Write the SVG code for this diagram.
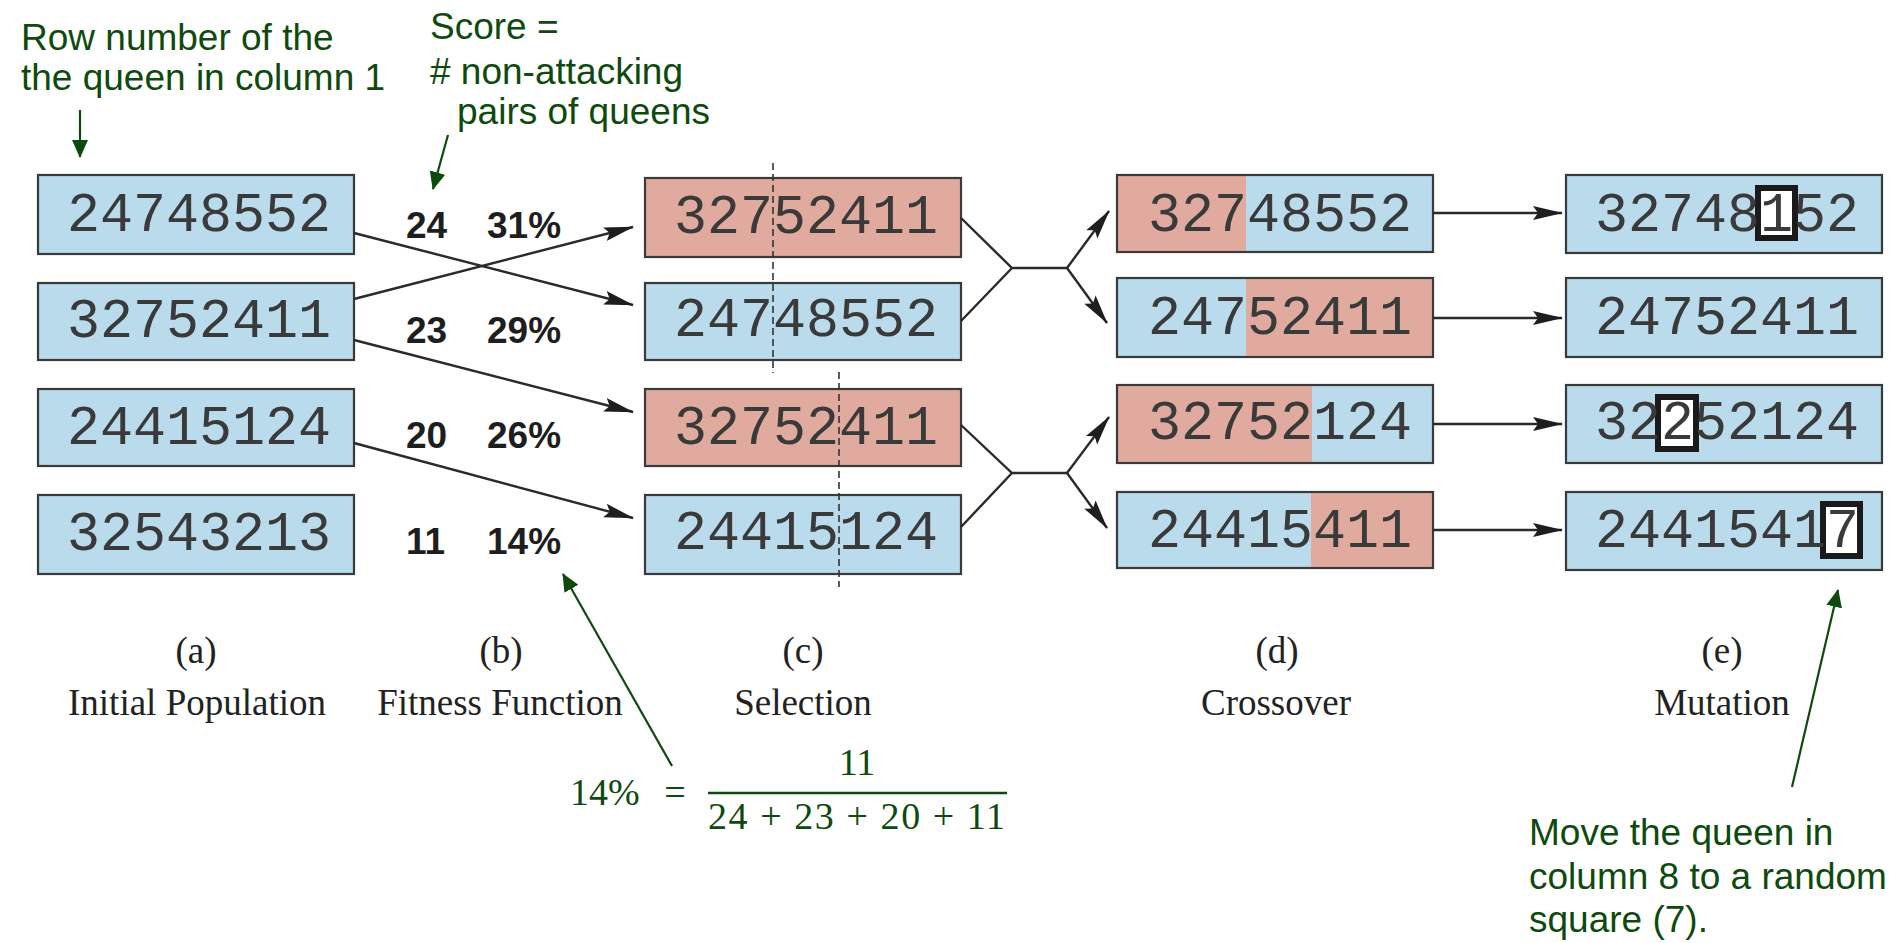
<svg xmlns="http://www.w3.org/2000/svg" width="1895" height="943" viewBox="0 0 1895 943">
  <style>
    .blue { fill: #b9dbeb; }
    .red { fill: #e0ab9e; }
    .frame { fill: none; stroke: #3a3a3a; stroke-width: 2.2; }
    .digits { font-family: "Liberation Mono", "DejaVu Sans Mono", monospace; font-size: 55px; fill: #3a3a3a; }
    .score { font-family: "Liberation Sans", Arial, sans-serif; font-size: 37px; font-weight: bold; fill: #1e1e1e; }
    .caption { font-family: "Liberation Serif", "Times New Roman", serif; font-size: 37px; fill: #222; text-anchor: middle; }
    .note { font-family: "Liberation Sans", Arial, sans-serif; font-size: 37px; fill: #0e4a0e; }
    .math { font-family: "Liberation Serif", "Times New Roman", serif; font-size: 38px; fill: #0e4a0e; }
    .conn { fill: none; stroke: #2a2a2a; stroke-width: 2.4; }
    .pointer { fill: none; stroke: #0e4a0e; stroke-width: 2.2; }
    .cut { fill: none; stroke: #333; stroke-width: 1.6; stroke-dasharray: 7 4; }
    .mut { fill: #fff; stroke: #1a1a1a; stroke-width: 6; }
  </style>
  <defs>
    <marker id="head" markerUnits="userSpaceOnUse" markerWidth="30" markerHeight="16" refX="29" refY="8" orient="auto">
      <path d="M0,1 L30,8 L0,15 L5,8 z" fill="#1e1e1e"/>
    </marker>
    <marker id="greenhead" markerUnits="userSpaceOnUse" markerWidth="18" markerHeight="16" refX="17" refY="8" orient="auto">
      <path d="M0,0 L18,8 L0,16 z" fill="#0e4a0e"/>
    </marker>
  </defs>

  <!-- annotations -->
  <g id="note-row">
    <text class="note" x="21" y="50">Row number of the</text>
    <text class="note" x="21" y="90">the queen in column 1</text>
    <line class="pointer" x1="80" y1="110" x2="80" y2="157" marker-end="url(#greenhead)"/>
  </g>
  <g id="note-score">
    <text class="note" x="430" y="39">Score =</text>
    <text class="note" x="430" y="84"># non-attacking</text>
    <text class="note" x="457" y="124">pairs of queens</text>
    <line class="pointer" x1="448" y1="135" x2="433" y2="189" marker-end="url(#greenhead)"/>
  </g>

  <!-- (a) initial population -->
  <g id="pop-1"><rect class="blue" x="38" y="175" width="316" height="79"/><rect class="frame" x="38" y="175" width="316" height="79"/><text class="digits" x="67" y="231">24748552</text></g>
  <g id="pop-2"><rect class="blue" x="38" y="283" width="316" height="77"/><rect class="frame" x="38" y="283" width="316" height="77"/><text class="digits" x="67" y="337">32752411</text></g>
  <g id="pop-3"><rect class="blue" x="38" y="389" width="316" height="77"/><rect class="frame" x="38" y="389" width="316" height="77"/><text class="digits" x="67" y="444">24415124</text></g>
  <g id="pop-4"><rect class="blue" x="38" y="495" width="316" height="79"/><rect class="frame" x="38" y="495" width="316" height="79"/><text class="digits" x="67" y="550">32543213</text></g>

  <!-- (b) fitness -->
  <g id="fitness">
    <text class="score" x="406" y="238">24</text><text class="score" x="487" y="238">31%</text>
    <text class="score" x="406" y="343">23</text><text class="score" x="487" y="343">29%</text>
    <text class="score" x="406" y="448">20</text><text class="score" x="487" y="448">26%</text>
    <text class="score" x="406" y="554">11</text><text class="score" x="487" y="554">14%</text>
  </g>

  <!-- (c) selection -->
  <g id="sel-1"><rect class="red" x="645" y="178" width="316" height="79"/><rect class="frame" x="645" y="178" width="316" height="79"/><text class="digits" x="674" y="233">32752411</text></g>
  <g id="sel-2"><rect class="blue" x="645" y="283" width="316" height="77"/><rect class="frame" x="645" y="283" width="316" height="77"/><text class="digits" x="674" y="336">24748552</text></g>
  <g id="sel-3"><rect class="red" x="645" y="389" width="316" height="77"/><rect class="frame" x="645" y="389" width="316" height="77"/><text class="digits" x="674" y="444">32752411</text></g>
  <g id="sel-4"><rect class="blue" x="645" y="495" width="316" height="79"/><rect class="frame" x="645" y="495" width="316" height="79"/><text class="digits" x="674" y="549">24415124</text></g>
  <g id="cut-points">
    <line class="cut" x1="773" y1="163" x2="773" y2="373"/>
    <line class="cut" x1="839" y1="372" x2="839" y2="587"/>
  </g>

  <!-- (d) crossover -->
  <g id="child-1"><rect class="red" x="1117" y="175" width="129" height="77"/><rect class="blue" x="1246" y="175" width="187" height="77"/><rect class="frame" x="1117" y="175" width="316" height="77"/><text class="digits" x="1148" y="231">32748552</text></g>
  <g id="child-2"><rect class="blue" x="1117" y="278" width="129" height="79"/><rect class="red" x="1246" y="278" width="187" height="79"/><rect class="frame" x="1117" y="278" width="316" height="79"/><text class="digits" x="1148" y="334">24752411</text></g>
  <g id="child-3"><rect class="red" x="1117" y="385" width="195" height="78"/><rect class="blue" x="1312" y="385" width="121" height="78"/><rect class="frame" x="1117" y="385" width="316" height="78"/><text class="digits" x="1148" y="439">32752124</text></g>
  <g id="child-4"><rect class="blue" x="1117" y="492" width="194" height="76"/><rect class="red" x="1311" y="492" width="122" height="76"/><rect class="frame" x="1117" y="492" width="316" height="76"/><text class="digits" x="1148" y="547">24415411</text></g>

  <!-- (e) mutation -->
  <g id="mut-1"><rect class="blue" x="1566" y="175" width="316" height="78"/><rect class="frame" x="1566" y="175" width="316" height="78"/><rect class="mut" x="1758" y="188" width="37" height="50"/><text class="digits" x="1595" y="231">32748152</text></g>
  <g id="mut-2"><rect class="blue" x="1566" y="278" width="316" height="79"/><rect class="frame" x="1566" y="278" width="316" height="79"/><text class="digits" x="1595" y="334">24752411</text></g>
  <g id="mut-3"><rect class="blue" x="1566" y="385" width="316" height="78"/><rect class="frame" x="1566" y="385" width="316" height="78"/><rect class="mut" x="1658" y="397" width="38" height="52"/><text class="digits" x="1595" y="439">32252124</text></g>
  <g id="mut-4"><rect class="blue" x="1566" y="492" width="316" height="78"/><rect class="frame" x="1566" y="492" width="316" height="78"/><rect class="mut" x="1823" y="504" width="37" height="52"/><text class="digits" x="1595" y="547">24415417</text></g>

  <!-- connectors -->
  <g id="connectors">
    <line class="conn" x1="354" y1="233" x2="633" y2="305" marker-end="url(#head)"/>
    <line class="conn" x1="354" y1="299" x2="633" y2="227" marker-end="url(#head)"/>
    <line class="conn" x1="354" y1="340" x2="633" y2="412" marker-end="url(#head)"/>
    <line class="conn" x1="354" y1="443" x2="633" y2="518" marker-end="url(#head)"/>

    <path class="conn" d="M961,218 L1012,268 L1067,268 M961,321 L1012,268"/>
    <line class="conn" x1="1067" y1="268" x2="1109" y2="211" marker-end="url(#head)"/>
    <line class="conn" x1="1067" y1="268" x2="1107" y2="323" marker-end="url(#head)"/>
    <path class="conn" d="M961,425 L1012,473 L1067,473 M961,527 L1012,473"/>
    <line class="conn" x1="1067" y1="473" x2="1109" y2="417" marker-end="url(#head)"/>
    <line class="conn" x1="1067" y1="473" x2="1107" y2="528" marker-end="url(#head)"/>

    <line class="conn" x1="1433" y1="213" x2="1562" y2="213" marker-end="url(#head)"/>
    <line class="conn" x1="1433" y1="318" x2="1562" y2="318" marker-end="url(#head)"/>
    <line class="conn" x1="1433" y1="424" x2="1562" y2="424" marker-end="url(#head)"/>
    <line class="conn" x1="1433" y1="530" x2="1562" y2="530" marker-end="url(#head)"/>
  </g>

  <!-- stage captions -->
  <g id="captions">
    <text class="caption" x="196" y="663">(a)</text>
    <text class="caption" x="197" y="715">Initial Population</text>
    <text class="caption" x="501" y="663">(b)</text>
    <text class="caption" x="500" y="715">Fitness Function</text>
    <text class="caption" x="803" y="663">(c)</text>
    <text class="caption" x="803" y="715">Selection</text>
    <text class="caption" x="1277" y="663">(d)</text>
    <text class="caption" x="1276" y="715">Crossover</text>
    <text class="caption" x="1722" y="663">(e)</text>
    <text class="caption" x="1722" y="715">Mutation</text>
  </g>

  <!-- probability formula -->
  <g id="note-formula">
    <line class="pointer" x1="672" y1="766" x2="563" y2="574" marker-end="url(#greenhead)"/>
    <text class="math" x="570" y="805">14%</text>
    <text class="math" x="675" y="805" text-anchor="middle">=</text>
    <text class="math" x="857" y="775" text-anchor="middle">11</text>
    <line x1="708" y1="793" x2="1007" y2="793" stroke="#0e4a0e" stroke-width="2.6"/>
    <text class="math" x="708" y="829" textLength="297" lengthAdjust="spacing">24 + 23 + 20 + 11</text>
  </g>

  <!-- mutation note -->
  <g id="note-mutation">
    <line class="pointer" x1="1792" y1="787" x2="1838" y2="590" marker-end="url(#greenhead)"/>
    <text class="note" x="1529" y="845">Move the queen in</text>
    <text class="note" x="1529" y="889">column 8 to a random</text>
    <text class="note" x="1529" y="932">square (7).</text>
  </g>
</svg>
